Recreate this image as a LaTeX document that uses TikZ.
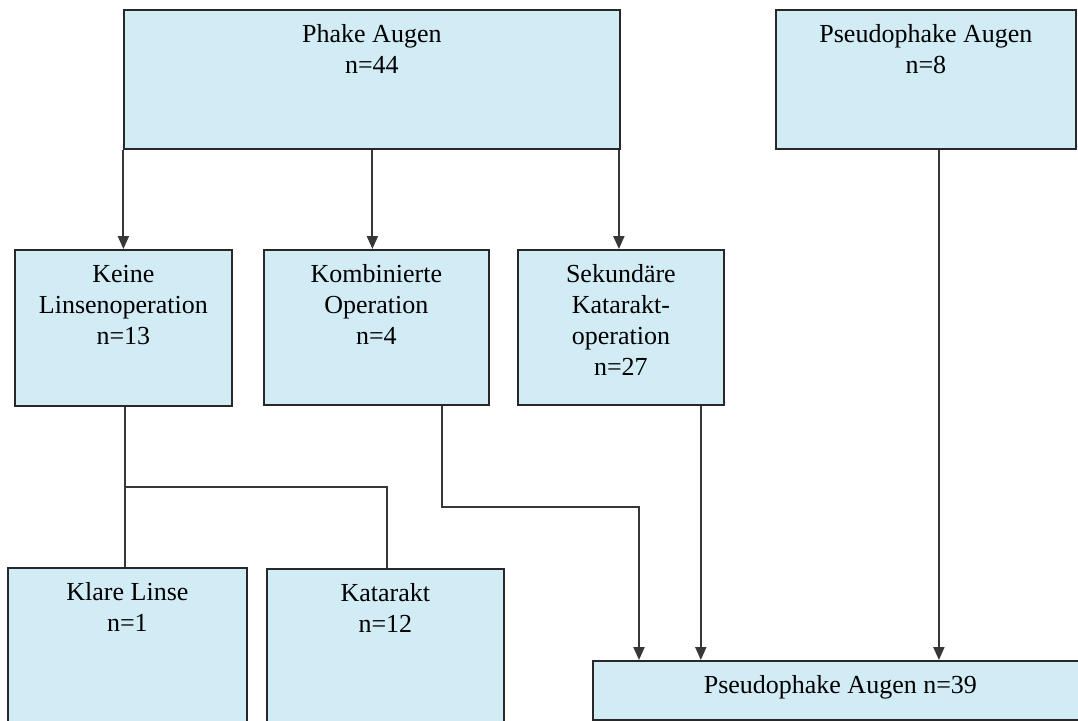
\documentclass[tikz,border=0pt]{standalone}
\usepackage{fontspec}
\setmainfont{Liberation Serif}
\usetikzlibrary{arrows.meta}
\definecolor{boxblue}{RGB}{210,236,246}
\definecolor{edge}{RGB}{40,40,40}
\definecolor{conncol}{RGB}{55,55,55}
\newcommand\bt[3]{\parbox[c][#2][t]{#1}{\centering\rule{0pt}{33pt}#3}}
\tikzset{
  box/.style={rectangle, draw=edge, line width=1.8pt, fill=boxblue, inner sep=0pt, anchor=north west,
    font=\fontsize{26}{31}\selectfont},
  conn/.style={draw=conncol, line width=2pt},
  arr/.style={conn, -{Triangle[width=11pt,length=13pt]}, shorten >=0pt}
}
\begin{document}
\begin{tikzpicture}[x=1pt,y=1pt]
\clip (0,0) rectangle (1078,-720);
\fill[white] (0,0) rectangle (1078,-720);
% boxes
\node[box] (phake) at (123,-9) {\bt{496pt}{139pt}{Phake Augen\\n=44}};
\node[box] (pseudo8) at (775,-9) {\bt{300pt}{139pt}{Pseudophake Augen\\n=8}};
\node[box] (keine) at (14,-249) {\bt{217pt}{156pt}{Keine\\Linsenoperation\\n=13}};
\node[box] (kombi) at (263,-249) {\bt{225pt}{155pt}{Kombinierte\\Operation\\n=4}};
\node[box] (sekund) at (517,-249) {\bt{206pt}{155pt}{Sekundäre\\Katarakt-\\operation\\n=27}};
\node[box] (klare) at (7,-567) {\bt{239pt}{170pt}{Klare Linse\\n=1}};
\node[box] (katarakt) at (266,-568) {\bt{237pt}{170pt}{Katarakt\\n=12}};
\node[box] (pseudo39) at (592,-660) {\bt{495pt}{59pt}{Pseudophake Augen n=39}};
% connectors
\draw[arr] (phake.south -| keine.north) -- (keine.north);
\draw[arr] ([xshift=-4pt]phake.south -| kombi.north) -- ([xshift=-4pt]kombi.north);
\draw[arr] ([xshift=-2pt]phake.south -| sekund.north) -- ([xshift=-2pt]sekund.north);
\draw[arr] ([xshift=13pt]pseudo8.south) -- ([xshift=13pt]pseudo8.south |- pseudo39.north);
\draw[conn] ([xshift=2pt]keine.south) -- ([xshift=2pt]keine.south |- klare.north);
\draw[conn] ([xshift=2pt]keine.south) ++(0,-80) -| ([xshift=2pt]katarakt.north);
\draw[arr] ([xshift=-48pt]kombi.south east) -- ++(0,-101) -| ([xshift=47pt]pseudo39.north west);
\draw[arr] ([xshift=-24pt]sekund.south east) -- ([xshift=-24pt]sekund.south east |- pseudo39.north);
\end{tikzpicture}
\end{document}
